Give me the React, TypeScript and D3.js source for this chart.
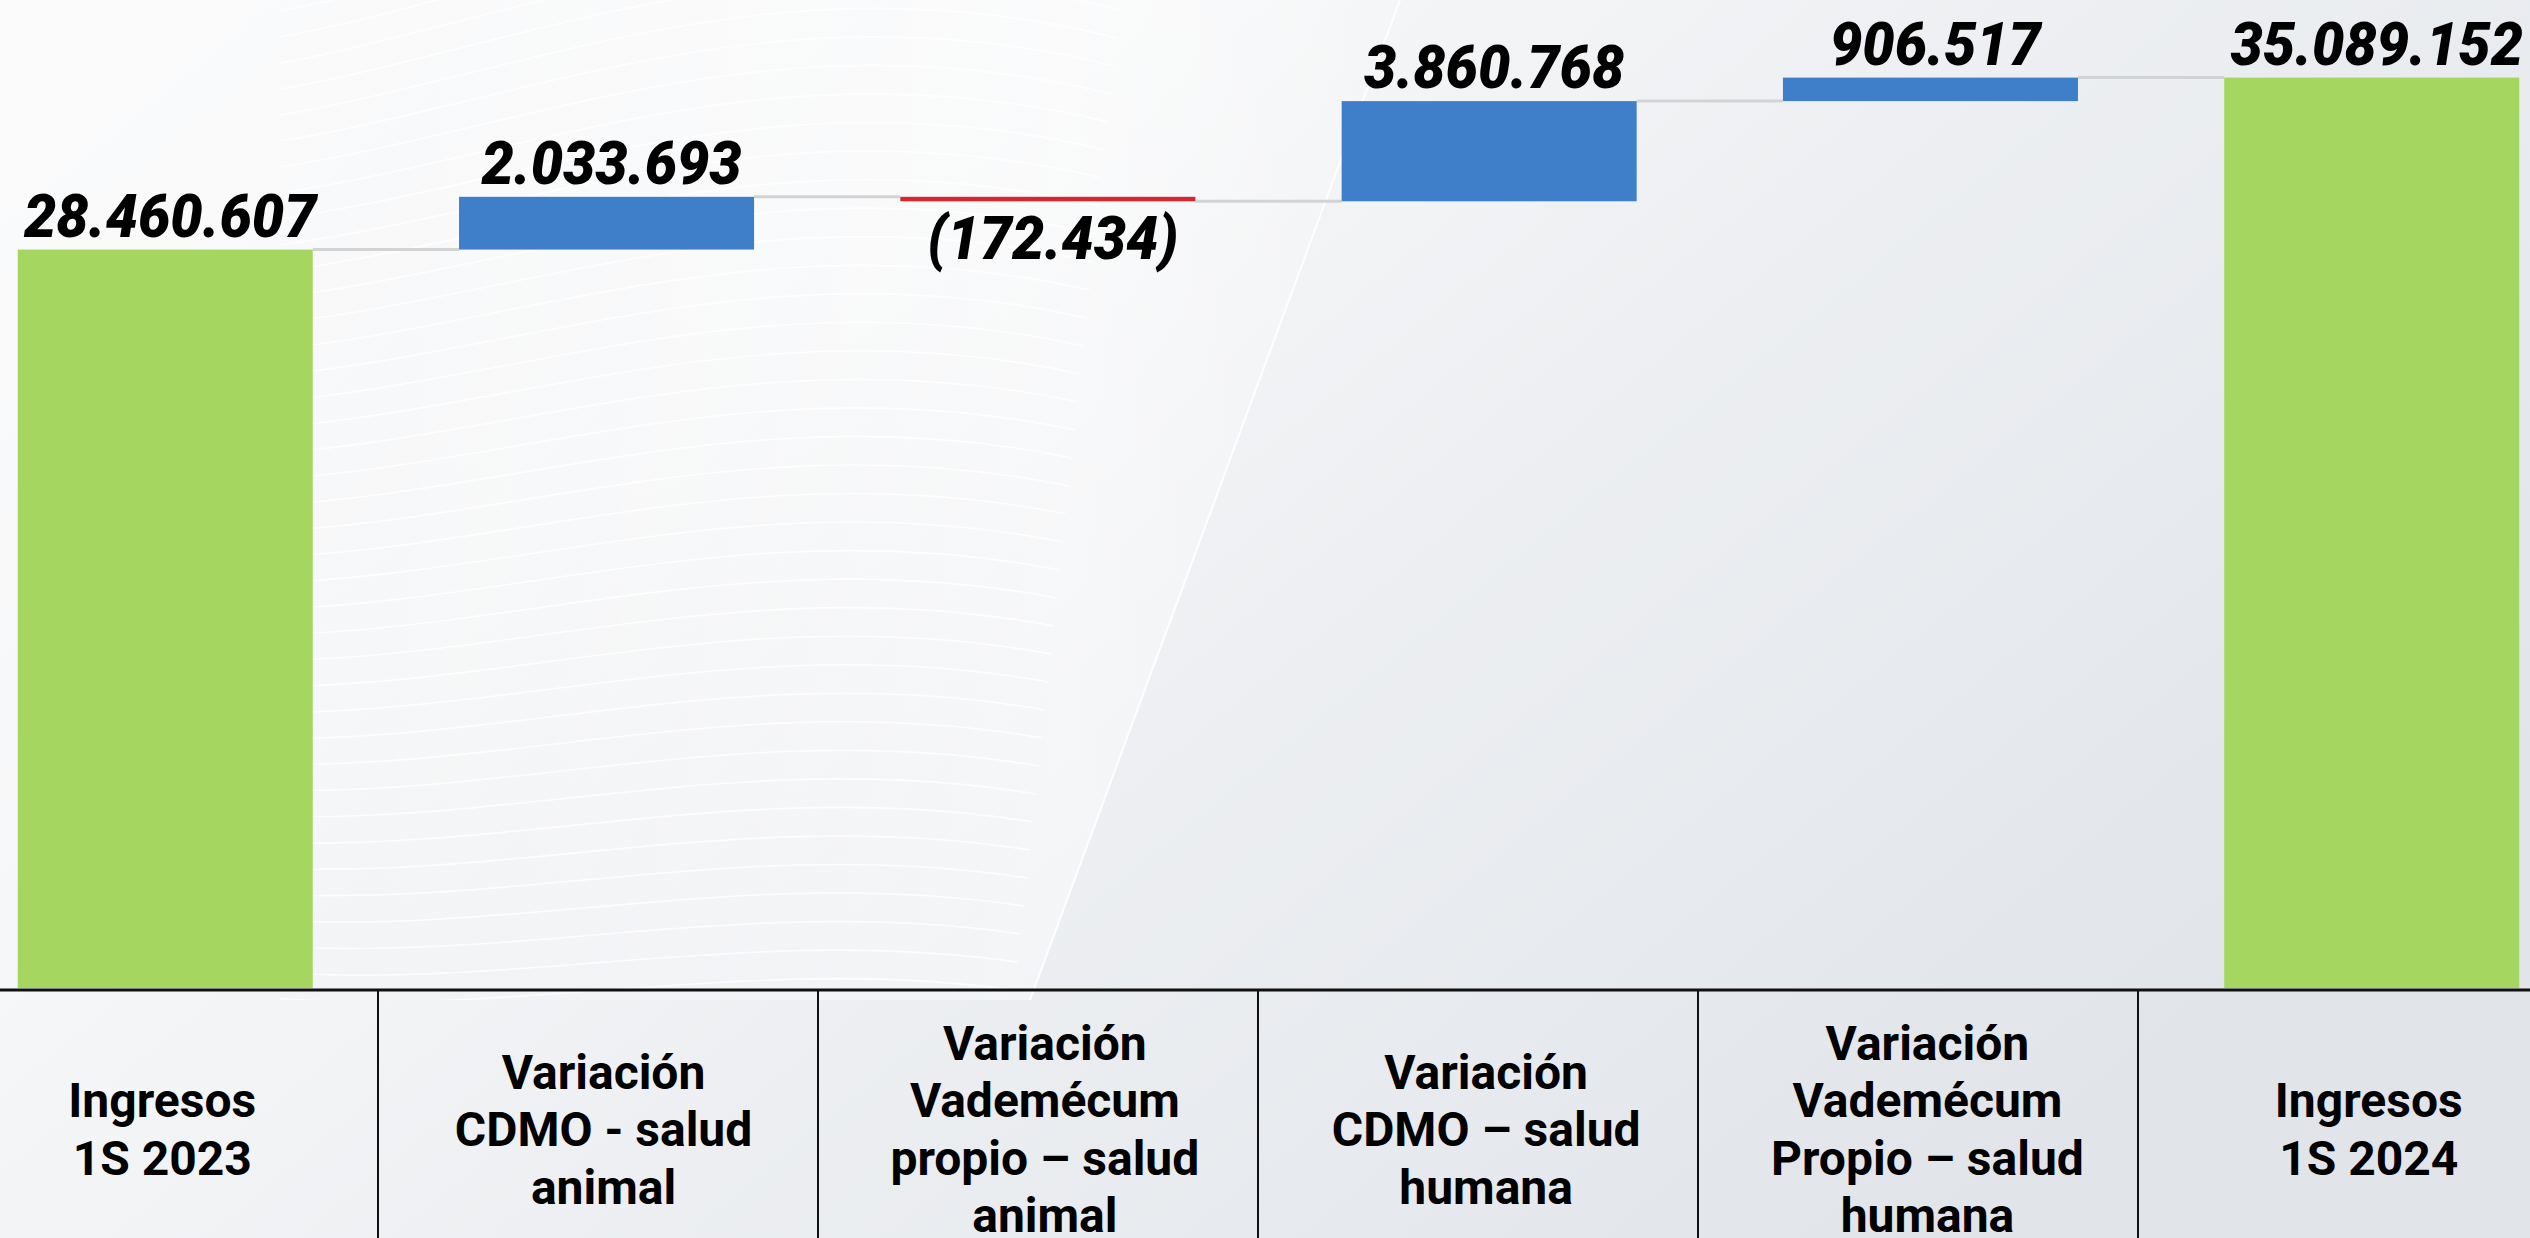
import React from "react";
import * as d3 from "d3";

const W = 2530;
const H = 1238;

const categories = [
  "Ingresos 1S 2023",
  "Variación CDMO - salud animal",
  "Variación Vademécum propio – salud animal",
  "Variación CDMO – salud humana",
  "Variación Vademécum Propio – salud humana",
  "Ingresos 1S 2024",
];
const values = [28460607, 2033693, -172434, 3860768, 906517, 35089152];
const kinds = ["total", "delta", "delta", "delta", "delta", "total"];
const valueLabels = ["28.460.607", "2.033.693", "(172.434)", "3.860.768", "906.517", "35.089.152"];
const tableLabels = [
  ["Ingresos", "1S 2023"],
  ["Variación", "CDMO - salud", "animal"],
  ["Variación", "Vademécum", "propio – salud", "animal"],
  ["Variación", "CDMO – salud", "humana"],
  ["Variación", "Vademécum", "Propio – salud", "humana"],
  ["Ingresos", "1S 2024"],
];

const COLORS = { total: "#A5D65F", up: "#3F7EC8", down: "#D7262E" };

export default function App() {
  const baseY = 988;
  const y = d3.scaleLinear().domain([0, 38080000]).range([baseY, 0]);
  const x = d3.scaleBand().domain(categories).range([-55.4, 2592.4]).paddingInner(0.3315).paddingOuter(0.16575);
  const bw = x.bandwidth();
  const tableX = d3.scaleBand().domain(categories).range([-62, 2578]);

  let running = 0;
  const bars = categories.map((c, i) => {
    let start: number, end: number;
    if (kinds[i] === "total") {
      start = 0;
      end = values[i];
    } else {
      start = running;
      end = running + values[i];
    }
    running = end;
    const top = y(Math.max(start, end));
    const bottom = y(Math.min(start, end));
    const fill = kinds[i] === "total" ? COLORS.total : values[i] >= 0 ? COLORS.up : COLORS.down;
    return { c, i, start, end, top, bottom, fill, x0: x(c)! };
  });

  // decorative waves
  const waves: string[] = [];
  for (let k = 0; k < 48; k++) {
    const y0 = -150 + k * 24;
    const p = d3.path();
    p.moveTo(-20, y0);
    p.bezierCurveTo(350, y0 + 60 + k * 2, 650, y0 - 260 + k * 6, 1150 - k * 3, y0 - 120 + k * 4);
    waves.push(p.toString());
  }

  const lineH = 57.5;
  const textMid = 1146;

  return (
    <div style={{ position: "fixed", left: 0, top: 0, width: W, height: H }}>
      <svg width={W} height={H} style={{ display: "block" }}>
        <defs>
          <linearGradient id="bg" x1="0" y1="0" x2="1" y2="0.6">
            <stop offset="0" stopColor="#fbfbfc" />
            <stop offset="0.35" stopColor="#f6f7f8" />
            <stop offset="0.6" stopColor="#edeff2" />
            <stop offset="1" stopColor="#e1e5ea" />
          </linearGradient>
          <linearGradient id="glow" x1="0" y1="0" x2="1" y2="0">
            <stop offset="0" stopColor="#ffffff" stopOpacity="0" />
            <stop offset="0.7" stopColor="#ffffff" stopOpacity="0.45" />
            <stop offset="1" stopColor="#ffffff" stopOpacity="0.1" />
          </linearGradient>
          <clipPath id="waveClip">
            <polygon points="280,0 1400,0 1030,1000 280,1000" />
          </clipPath>
        </defs>
        <rect x={0} y={0} width={W} height={H} fill="url(#bg)" />
        <polygon points="300,0 1400,0 1030,1000 300,1000" fill="url(#glow)" />
        <g clipPath="url(#waveClip)" fill="none" stroke="#ffffff" strokeOpacity={0.8} strokeWidth={1.6}>
          {waves.map((d, k) => (
            <path key={k} d={d} />
          ))}
        </g>
        <line x1={1400} y1={0} x2={1030} y2={1000} stroke="#ffffff" strokeWidth={2} strokeOpacity={0.9} />

        {/* connectors */}
        {bars.slice(0, -1).map((b, i) => (
          <line
            key={"c" + i}
            x1={b.x0 + bw}
            x2={bars[i + 1].x0}
            y1={y(b.end)}
            y2={y(b.end)}
            stroke="#d2d3d5"
            strokeWidth={3}
          />
        ))}

        {/* bars */}
        {bars.map((b) => (
          <rect key={b.c} x={b.x0} y={b.top} width={bw} height={Math.max(1, b.bottom - b.top)} fill={b.fill} />
        ))}

        {/* value labels */}
        {bars.map((b) => {
          const neg = values[b.i] < 0;
          const ty = neg ? b.bottom + 58 : b.top - 13;
          return (
            <text
              key={"l" + b.i}
              transform={`translate(${b.x0 + bw / 2 + 5},${ty}) scale(0.96,1)`}
              textAnchor="middle"
              fontFamily="Roboto, 'Noto Sans', sans-serif"
              fontStyle="italic"
              fontWeight={900}
              fontSize={60}
              fill="#000"
            >
              {valueLabels[b.i]}
            </text>
          );
        })}

        {/* table */}
        <line x1={0} x2={W} y1={990} y2={990} stroke="#111" strokeWidth={3} />
        {categories.slice(1).map((c) => (
          <line key={"v" + c} x1={tableX(c)!} x2={tableX(c)!} y1={990} y2={H} stroke="#111" strokeWidth={2} />
        ))}
        {bars.map((b) => {
          const lines = tableLabels[b.i];
          const n = lines.length;
          return (
            <text
              key={"t" + b.i}
              textAnchor="middle"
              fontFamily="Roboto, 'Noto Sans', sans-serif"
              fontWeight={700}
              fontSize={48}
              fill="#000"
            >
              {lines.map((s, j) => (
                <tspan key={j} x={b.x0 + bw / 2 - 3} y={textMid + (j - (n - 1) / 2) * lineH}>
                  {s}
                </tspan>
              ))}
            </text>
          );
        })}
      </svg>
    </div>
  );
}
